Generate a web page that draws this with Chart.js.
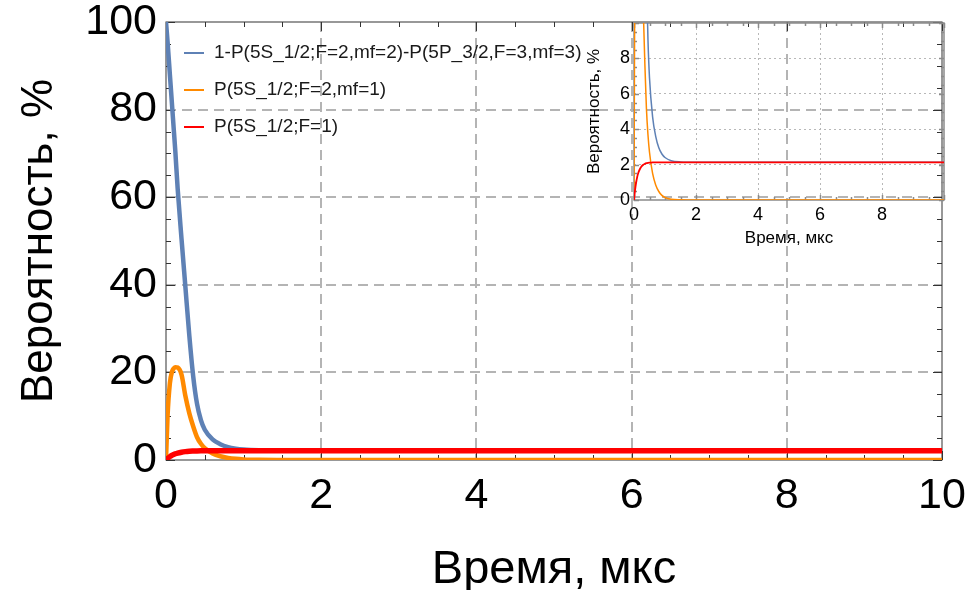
<!DOCTYPE html>
<html lang="ru">
<head>
<meta charset="UTF-8">
<title>Вероятность от времени</title>
<script src="https://cdn.jsdelivr.net/npm/chart.js@4.4.0/dist/chart.umd.min.js"></script>
<style>
  body { margin: 0; background: #fff; }
  .wrap { position: relative; width: 972px; height: 590px; }
  #mainChart { position: absolute; left: 0; top: 0; }
  #insetChart { position: absolute; left: 560px; top: 0; }
</style>
</head>
<body>
<div class="wrap">
  <canvas id="mainChart" width="972" height="590"></canvas>
  <canvas id="insetChart" width="412" height="260"></canvas>
</div>
<script>
// time grid, microseconds
const timeUs = [0, 0.02, 0.05, 0.08, 0.1, 0.12, 0.15, 0.2, 0.25, 0.3, 0.35, 0.4, 0.45, 0.5,
                0.6, 0.7, 0.8, 0.9, 1.0, 1.2, 1.5, 2, 3, 4, 5, 6, 7, 8, 9, 10];
// populations, %
const pRest = [100, 95.5, 88, 80.5, 75.5, 70.5, 62, 50.5, 39.5, 28.5, 19.2, 12.8, 9.1, 6.9,
               4.7, 3.6, 2.95, 2.6, 2.4, 2.22, 2.15, 2.13, 2.13, 2.13, 2.13, 2.13, 2.13, 2.13, 2.13, 2.13];
const pF2mf1 = [0, 10, 17.5, 20.3, 20.9, 21.2, 21.1, 19.5, 14.6, 10.7, 7.7, 5.2, 3.7, 2.7,
                1.5, 0.85, 0.48, 0.26, 0.14, 0.04, 0.01, 0, 0, 0, 0, 0, 0, 0, 0, 0];
const pF1 = [0, 0.35, 0.77, 1.1, 1.27, 1.42, 1.59, 1.78, 1.91, 1.99, 2.04, 2.08, 2.1, 2.11,
             2.12, 2.13, 2.13, 2.13, 2.13, 2.13, 2.13, 2.13, 2.13, 2.13, 2.13, 2.13, 2.13, 2.13, 2.13, 2.13];

const seriesNames = ['1-P(5S_1/2;F=2,mf=2)-P(5P_3/2,F=3,mf=3)', 'P(5S_1/2;F=2,mf=1)', 'P(5S_1/2;F=1)'];
const seriesColors = ['#5e81b5', '#ff8a00', '#ff0000'];
const seriesValues = [pRest, pF2mf1, pF1];

const FONT = "'Liberation Sans', Arial, sans-serif";

function points(values) {
  return timeUs.map((t, i) => ({ x: t, y: values[i] }));
}

function makeDatasets(widths) {
  return seriesValues.map((vals, i) => ({
    label: seriesNames[i],
    data: points(vals),
    borderColor: seriesColors[i],
    borderWidth: widths[i],
    pointRadius: 0,
    cubicInterpolationMode: 'monotone',
    order: 3 - i   // red on top, then orange, then blue
  }));
}

// keep the plot area exactly where layout.padding puts it
function fixSize(prop, size) {
  return s => {
    s[prop] = size;
    s.paddingTop = s.paddingBottom = s.paddingLeft = s.paddingRight = 0;
  };
}

// frame around the plot area with inward ticks on all four sides
const framePlugin = {
  id: 'frame',
  beforeDatasetsDraw(chart, args, o) {
    const { ctx, chartArea: a, scales: { x, y } } = chart;
    ctx.save();
    ctx.strokeStyle = o.color;
    ctx.lineWidth = o.width;
    ctx.strokeRect(a.left, a.top, a.right - a.left, a.bottom - a.top);
    ctx.beginPath();
    const nx = Math.round((x.max - x.min) / o.xMinor);
    for (let k = 0; k <= nx; k++) {
      const v = x.min + k * o.xMinor;
      const px = Math.round(x.getPixelForValue(v)) + 0.5;
      const len = Math.abs(v / o.xMajor - Math.round(v / o.xMajor)) < 1e-6 ? o.major : o.minor;
      ctx.moveTo(px, a.bottom); ctx.lineTo(px, a.bottom - len);
      ctx.moveTo(px, a.top); ctx.lineTo(px, a.top + len);
    }
    const ny = Math.round((y.max - y.min) / o.yMinor);
    for (let k = 0; k <= ny; k++) {
      const v = y.min + k * o.yMinor;
      const py = Math.round(y.getPixelForValue(v)) + 0.5;
      const len = Math.abs(v / o.yMajor - Math.round(v / o.yMajor)) < 1e-6 ? o.major : o.minor;
      ctx.moveTo(a.left, py); ctx.lineTo(a.left + len, py);
      ctx.moveTo(a.right, py); ctx.lineTo(a.right - len, py);
    }
    ctx.stroke();
    ctx.restore();
  }
};

// legend drawn inside the plot, top left
const insideLegend = {
  id: 'insideLegend',
  afterDraw(chart, args, o) {
    const { ctx } = chart;
    ctx.save();
    ctx.font = o.size + 'px ' + FONT;
    ctx.textBaseline = 'middle';
    ctx.fillStyle = '#1a1a1a';
    seriesNames.forEach((name, i) => {
      const yy = o.rows[i];
      ctx.strokeStyle = seriesColors[i];
      ctx.lineWidth = 2;
      ctx.beginPath();
      ctx.moveTo(o.x, yy); ctx.lineTo(o.x + 20, yy);
      ctx.stroke();
      ctx.fillText(name, o.x + 30, yy);
    });
    ctx.restore();
  }
};

const inside = (ctx, lo, hi, color) =>
  ctx.tick && ctx.tick.value > lo && ctx.tick.value < hi ? color : 'rgba(0,0,0,0)';

new Chart(document.getElementById('mainChart'), {
  type: 'line',
  data: { datasets: makeDatasets([4.5, 4.5, 5.5]) },
  options: {
    responsive: false,
    animation: false,
    devicePixelRatio: 1,
    layout: { padding: { top: 22, right: 30, left: 0, bottom: 0 } },
    plugins: {
      legend: { display: false },
      tooltip: { enabled: false },
      frame: { color: '#333', width: 1, xMinor: 0.5, xMajor: 2, yMinor: 5, yMajor: 20, major: 9, minor: 5 },
      insideLegend: { x: 184, rows: [53, 90, 127], size: 19 }
    },
    scales: {
      x: {
        type: 'linear', min: 0, max: 10,
        ticks: { stepSize: 2, color: '#000', font: { family: FONT, size: 43 }, padding: 10, maxRotation: 0 },
        grid: { color: c => inside(c, 0, 10, '#b4b4b4'), lineWidth: 2, drawTicks: false },
        border: { display: false, dash: [10, 6] },
        title: { display: true, text: 'Время, мкс', color: '#000',
                 font: { family: FONT, size: 47, lineHeight: 0.86 }, padding: { top: 0, bottom: 0 } },
        afterFit: fixSize('height', 130)
      },
      y: {
        type: 'linear', min: 0, max: 100,
        ticks: { stepSize: 20, color: '#000', font: { family: FONT, size: 43 }, padding: 9 },
        grid: { color: c => inside(c, 0, 100, '#b4b4b4'), lineWidth: 2, drawTicks: false },
        border: { display: false, dash: [10, 6] },
        title: { display: true, text: 'Вероятность, %', color: '#000',
                 font: { family: FONT, size: 44, lineHeight: 1 }, padding: { top: 18, bottom: 0 } },
        afterFit: fixSize('width', 166)
      }
    }
  },
  plugins: [framePlugin, insideLegend]
});

// zoomed view of the first 10 %
new Chart(document.getElementById('insetChart'), {
  type: 'line',
  data: { datasets: makeDatasets([1.5, 1.5, 1.8]) },
  options: {
    responsive: false,
    animation: false,
    devicePixelRatio: 1,
    layout: { padding: { top: 23, right: 28, left: 0, bottom: 0 } },
    plugins: {
      legend: { display: false },
      tooltip: { enabled: false },
      frame: { color: '#8a8a8a', width: 1.5, xMinor: 0.5, xMajor: 2, yMinor: 0.5, yMajor: 2, major: 5, minor: 3 }
    },
    scales: {
      x: {
        type: 'linear', min: 0, max: 10,
        ticks: { stepSize: 2, color: '#000', font: { family: FONT, size: 18 }, padding: 4, maxRotation: 0,
                 callback: v => (v < 10 ? v : '') },
        grid: { color: c => inside(c, 0, 10, '#b8b8b8'), lineWidth: 1, drawTicks: false },
        border: { display: false, dash: [2, 3] },
        title: { display: true, text: 'Время, мкс', color: '#000',
                 font: { family: FONT, size: 17, lineHeight: 1 }, padding: { top: 0, bottom: 13 } },
        afterFit: fixSize('height', 60)
      },
      y: {
        type: 'linear', min: 0, max: 10,
        ticks: { stepSize: 2, color: '#000', font: { family: FONT, size: 18 }, padding: 4,
                 callback: v => (v < 10 ? v : '') },
        grid: { color: c => inside(c, 0, 10, '#b8b8b8'), lineWidth: 1, drawTicks: false },
        border: { display: false, dash: [2, 3] },
        title: { display: true, text: 'Вероятность, %', color: '#000',
                 font: { family: FONT, size: 17, lineHeight: 1 }, padding: { top: 26, bottom: 0 } },
        afterFit: fixSize('width', 74)
      }
    }
  },
  plugins: [framePlugin]
});
</script>
</body>
</html>
